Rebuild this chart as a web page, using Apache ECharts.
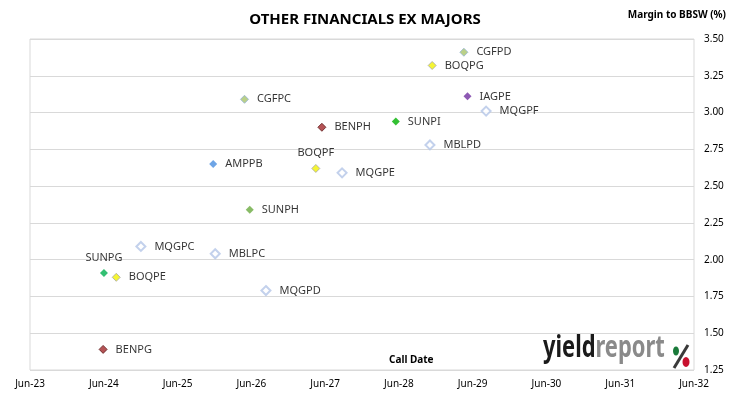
<!DOCTYPE html>
<html>
<head>
<meta charset="utf-8">
<script src="https://cdn.jsdelivr.net/npm/echarts@6/dist/echarts.min.js"></script>
<style>
    html, body { margin: 0; padding: 0; background: #fff; }
    #main { width: 730px; height: 399px; }
</style>
</head>
<body>
<div id="main"></div>
<script>
// 证券代码 / 首次赎回日 / 相对BBSW的利差(%)
var codes   = ['CGFPD', 'BOQPG', 'IAGPE', 'MQGPF', 'SUNPI', 'MBLPD', 'CGFPC', 'BENPH', 'AMPPB',
               'BOQPF', 'MQGPE', 'SUNPH', 'MQGPC', 'MBLPC', 'SUNPG', 'BOQPE', 'MQGPD', 'BENPG'];
var callDates = ['2029-04-18', '2028-11-12', '2029-05-06', '2029-08-06', '2028-05-16', '2028-11-01',
                 '2026-04-28', '2027-05-16', '2025-11-24', '2027-04-16', '2027-08-24', '2026-05-24',
                 '2024-12-01', '2025-12-04', '2024-06-01', '2024-08-01', '2026-08-12', '2024-05-28'];
var margins = [3.41, 3.32, 3.11, 3.01, 2.94, 2.78, 3.09, 2.90, 2.65,
               2.62, 2.59, 2.34, 2.09, 2.04, 1.91, 1.88, 1.79, 1.39];

// 横轴刻度
var xTicks = ['Jun-23', 'Jun-24', 'Jun-25', 'Jun-26', 'Jun-27', 'Jun-28', 'Jun-29', 'Jun-30', 'Jun-31', 'Jun-32'];
var yTicks = [1.25, 1.50, 1.75, 2.00, 2.25, 2.50, 2.75, 3.00, 3.25, 3.50];

// 标签放在上方的点
var labelTop = ['SUNPG', 'BOQPF'];

// 日期 -> 自 Jun-23 起的月数
var base = Date.UTC(2023, 5, 1);
function toMonths(d) {
    var p = d.split('-');
    return (Date.UTC(+p[0], +p[1] - 1, +p[2]) - base) / (365.25 / 12 * 86400000);
}

function markerStyle(code) {
    var k = code.substring(0, 3);
    if (k == 'MQG' || k == 'MBL') return {color: '#ffffff', borderColor: '#b4c6e7', borderWidth: 2};
    if (k == 'CGF') return {color: '#a9c46a', borderColor: '#93b3d3', borderWidth: 1};
    if (k == 'BOQ') return {color: '#f2f200', borderColor: '#a6a6a6', borderWidth: 1};
    if (k == 'BEN') return {color: '#a3282a', borderColor: '#5e1c1c', borderWidth: 1};
    if (k == 'IAG') return {color: '#7030a0'};
    if (k == 'AMP') return {color: '#4a8ee0'};
    if (code == 'SUNPH') return {color: '#6aaa40'};
    if (code == 'SUNPG') return {color: '#00b050'};
    return {color: '#00b000'};
}

var points = [];
for (var i = 0; i < codes.length; i++) {
    var onTop = labelTop.indexOf(codes[i]) >= 0;
    var k = codes[i].substring(0, 3);
    var hollow = k == 'MQG' || k == 'MBL';
    points.push({
        name: codes[i],
        value: [toMonths(callDates[i]), margins[i]],
        symbolSize: hollow ? 9 : 8,
        itemStyle: markerStyle(codes[i]),
        label: {position: onTop ? 'top' : 'right', distance: onTop ? 6 : 8}
    });
}

var myChart = echarts.init(document.getElementById('main'));
var option = {
    animation: false,
    title: {
        text: 'OTHER FINANCIALS EX MAJORS',
        left: 'center',
        top: 7,
        textStyle: {fontFamily: 'Noto Sans', fontSize: 15, fontWeight: 'bold', color: '#000'}
    },
    grid: {
        left: 30, right: 36, top: 39, bottom: 29,
        show: true,
        borderColor: '#d9d9d9',
        borderWidth: 1
    },
    xAxis: {
        type: 'value',
        min: 0,
        max: (xTicks.length - 1) * 12,
        interval: 12,
        axisLine: {show: false},
        axisTick: {show: false},
        splitLine: {show: false},
        axisLabel: {
            margin: 9,
            color: '#000',
            fontFamily: 'Noto Sans',
            fontSize: 10,
            formatter: function (v) { return xTicks[Math.round(v / 12)]; }
        }
    },
    yAxis: {
        type: 'value',
        position: 'right',
        min: yTicks[0],
        max: yTicks[yTicks.length - 1],
        interval: 0.25,
        axisLine: {show: false},
        axisTick: {show: false},
        splitLine: {lineStyle: {color: '#d9d9d9'}},
        axisLabel: {
            margin: 10,
            color: '#000',
            fontFamily: 'Noto Sans',
            fontSize: 10,
            formatter: function (v) { return v.toFixed(2); }
        }
    },
    graphic: [
        {
            type: 'text', right: 4, top: 10,
            style: {text: 'Margin to BBSW (%)', font: 'bold 10px "Noto Sans"', fill: '#000'}
        },
        {
            type: 'text', left: 389, top: 355,
            style: {text: 'Call Date', font: 'bold 10px "Noto Sans"', fill: '#000'}
        },
        // yieldreport 标志
        {
            type: 'text', x: 543, y: 333, scaleX: 0.73,
            style: {
                text: '{a|yield}{b|report}',
                rich: {
                    a: {fontSize: 30, fontWeight: 'bold', fontFamily: 'Noto Sans', fill: '#1a1a1a'},
                    b: {fontSize: 30, fontWeight: 'bold', fontFamily: 'Noto Sans', fill: '#8a8a8a'}
                }
            }
        },
        {
            type: 'line', shape: {x1: 674, y1: 368, x2: 688, y2: 345},
            style: {stroke: '#3a3a3a', lineWidth: 3}
        },
        {
            type: 'ellipse', shape: {cx: 676, cy: 351, rx: 3, ry: 4.5},
            style: {fill: '#1a7a3a'}
        },
        {
            type: 'ellipse', shape: {cx: 686, cy: 362, rx: 3.5, ry: 5},
            style: {fill: '#c8102e'}
        }
    ],
    series: [
        {
            type: 'scatter',
            symbol: 'diamond',
            data: points,
            label: {
                show: true,
                formatter: '{b}',
                color: '#000',
                fontFamily: 'Noto Sans',
                fontSize: 11
            }
        }
    ]
};
myChart.setOption(option);
</script>
</body>
</html>
